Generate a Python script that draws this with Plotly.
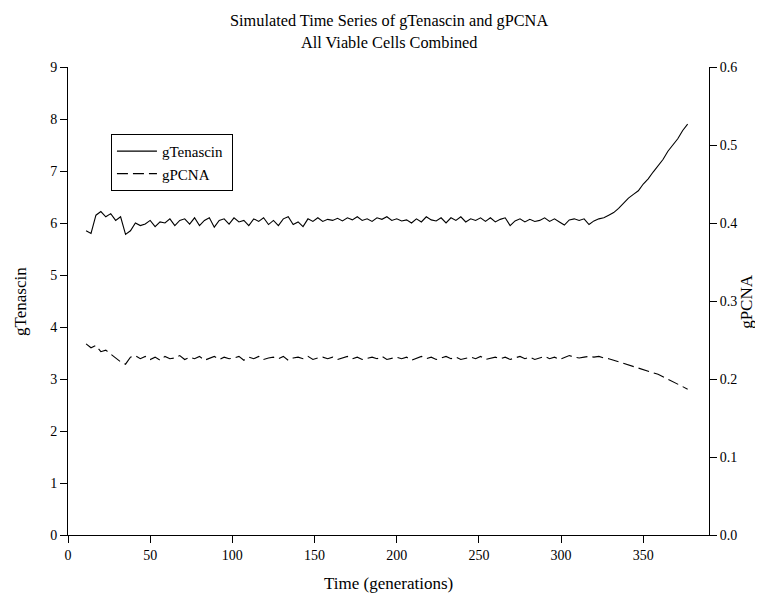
import plotly.graph_objects as go

time = list(range(11, 378, 3))  # 11 .. 377

g_tenascin = [
    5.85, 5.80, 6.15, 6.22, 6.12, 6.18, 6.05, 6.12, 5.78, 5.85,
    6.00, 5.95, 5.98, 6.05, 5.93, 6.02, 6.00, 6.08, 5.95, 6.05,
    6.08, 5.98, 6.10, 5.95, 6.05, 6.10, 5.92, 6.05, 6.08, 5.98,
    6.10, 6.02, 6.05, 5.95, 6.08, 6.03, 6.10, 5.97, 6.05, 5.95,
    6.08, 6.12, 5.97, 6.02, 5.93, 6.08, 6.03, 6.10, 6.03, 6.07,
    6.05, 6.09, 6.04, 6.10, 6.06, 6.12, 6.05, 6.08, 6.03, 6.10,
    6.07, 6.12, 6.05, 6.08, 6.04, 6.06, 6.00, 6.08, 6.02, 6.12,
    6.06, 6.04, 6.10, 6.00, 6.10, 6.05, 6.12, 6.02, 6.08, 6.05,
    6.10, 6.03, 6.10, 6.02, 6.07, 6.10, 5.95, 6.04, 6.08, 6.02,
    6.07, 6.03, 6.05, 6.10, 6.03, 6.08, 6.02, 5.96, 6.06, 6.08,
    6.05, 6.08, 5.97, 6.04, 6.08, 6.10, 6.15, 6.20, 6.28, 6.38,
    6.48, 6.55, 6.62, 6.75, 6.85, 6.98, 7.10, 7.22, 7.38, 7.50,
    7.62, 7.78, 7.90,
]

g_pcna = [
    0.245, 0.240, 0.243, 0.235, 0.237, 0.232, 0.228, 0.222, 0.219, 0.228,
    0.230, 0.226, 0.229, 0.225, 0.228, 0.224, 0.229, 0.226, 0.227, 0.230,
    0.225, 0.228, 0.226, 0.229, 0.224, 0.227, 0.229, 0.225, 0.228, 0.226,
    0.227, 0.229, 0.224, 0.228, 0.226, 0.229, 0.225, 0.227, 0.228, 0.226,
    0.229, 0.224, 0.227, 0.228, 0.226, 0.229, 0.225, 0.227, 0.228, 0.226,
    0.228, 0.225, 0.227, 0.229, 0.226, 0.228, 0.225, 0.227, 0.228, 0.226,
    0.229, 0.225, 0.227, 0.228, 0.226, 0.228, 0.224, 0.227, 0.229, 0.226,
    0.228, 0.225, 0.227, 0.229, 0.226, 0.228, 0.225, 0.227, 0.228, 0.226,
    0.229, 0.225, 0.227, 0.228, 0.226, 0.228, 0.225, 0.227, 0.229, 0.226,
    0.228, 0.225, 0.227, 0.229, 0.226, 0.228, 0.225, 0.227, 0.230, 0.228,
    0.227, 0.228, 0.229, 0.228, 0.229, 0.227, 0.226, 0.224, 0.222, 0.220,
    0.218, 0.217, 0.215, 0.213, 0.211, 0.209, 0.206, 0.203, 0.200, 0.196,
    0.193, 0.190, 0.187,
]

x_ticks = [0, 50, 100, 150, 200, 250, 300, 350]
title_lines = ["Simulated Time Series of gTenascin and gPCNA", "All Viable Cells Combined"]
x_title = "Time (generations)"
y_title = "gTenascin"
y2_title = "gPCNA"

FONT = "Liberation Serif, Times New Roman, serif"

fig = go.Figure()
fig.add_trace(go.Scatter(
    x=time, y=g_tenascin, name="gTenascin\u00a0", mode="lines",
    line=dict(color="black", width=1.1), yaxis="y",
))
fig.add_trace(go.Scatter(
    x=time, y=g_pcna, name="gPCNA", mode="lines",
    line=dict(color="black", width=1.1, dash="11px,5px"), yaxis="y2",
))

axis_common = dict(
    showgrid=False, zeroline=False, showline=True, linecolor="black",
    linewidth=1, ticks="outside", ticklen=7, tickcolor="black", tickwidth=1,
    tickfont=dict(family=FONT, size=14, color="black"),
)

fig.update_layout(
    width=763, height=605,
    paper_bgcolor="white", plot_bgcolor="white",
    margin=dict(l=60, r=62, t=59, b=78, autoexpand=False),
    font=dict(family=FONT, color="black"),
    xaxis=dict(range=[0, 390], tickvals=x_ticks, **axis_common),
    yaxis=dict(range=[0, 9], dtick=1, **axis_common),
    yaxis2=dict(range=[0, 0.6], dtick=0.1, tickformat=".1f", overlaying="y",
                side="right", **axis_common),
    legend=dict(
        x=0.067, y=0.857, xanchor="left", yanchor="top",
        bgcolor="white", bordercolor="black", borderwidth=1,
        font=dict(family=FONT, size=15, color="black"),
        tracegroupgap=0, itemwidth=40,
    ),
    showlegend=True,
)

title_font = dict(family=FONT, size=16.3, color="black")
ann_font = dict(family=FONT, size=17, color="black")
fig.add_annotation(text=title_lines[0], xref="paper", yref="paper", x=0.5, y=1.0983,
                   xanchor="center", yanchor="middle", showarrow=False, font=title_font)
fig.add_annotation(text=title_lines[1], xref="paper", yref="paper", x=0.5, y=1.0534,
                   xanchor="center", yanchor="middle", showarrow=False, font=title_font)
fig.add_annotation(text=x_title, xref="paper", yref="paper", x=0.5, y=-0.1026,
                   xanchor="center", yanchor="middle", showarrow=False, font=ann_font)
fig.add_annotation(text=y_title, xref="paper", yref="paper", x=-0.075, y=0.5,
                   xanchor="center", yanchor="middle", textangle=-90, showarrow=False, font=ann_font)
fig.add_annotation(text=y2_title, xref="paper", yref="paper", x=1.0575, y=0.5,
                   xanchor="center", yanchor="middle", textangle=-90, showarrow=False, font=ann_font)

fig.write_html("out.html")
